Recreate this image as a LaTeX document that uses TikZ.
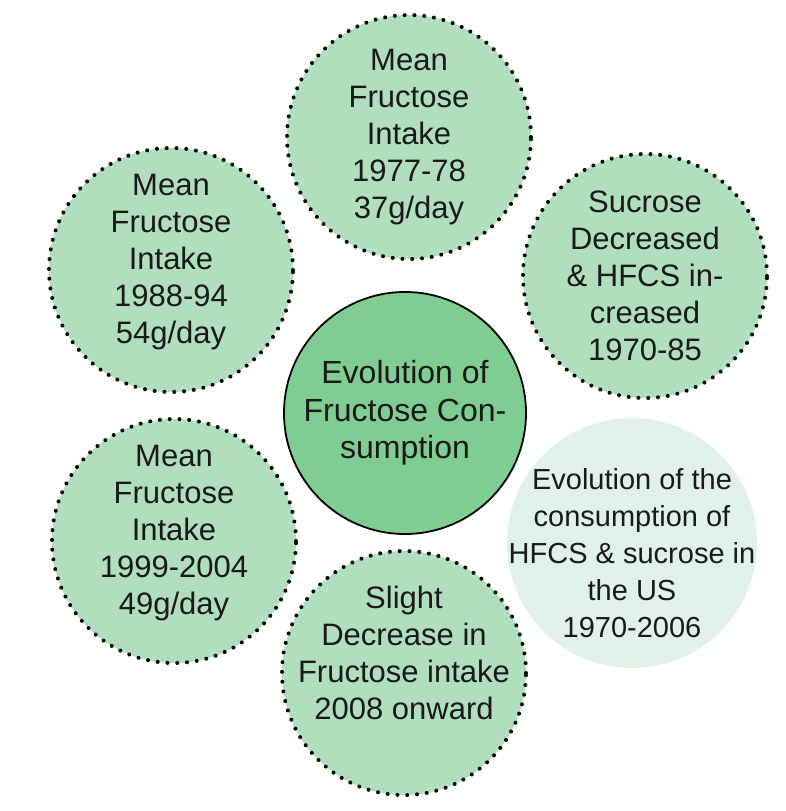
\documentclass[tikz,border=0pt]{standalone}
\usepackage{fontspec}
\setmainfont{Liberation Sans}
\usepackage{xcolor}
\usepackage{tikz}
\usetikzlibrary{positioning}
\definecolor{MintFill}{HTML}{B1DFBE}
\definecolor{HubGreen}{HTML}{80CD93}
\definecolor{PaleMint}{HTML}{E0F2E5}
\definecolor{InkDark}{HTML}{1A1A1A}

\tikzset{
  dotring/.style={circle, minimum size=244pt, inner sep=0pt, fill=MintFill,
    draw=black, line width=4pt, line cap=round, dash pattern=on 0pt off 9.8pt},
  hub/.style={circle, minimum size=242pt, inner sep=0pt, fill=HubGreen,
    draw=black, line width=1.8pt},
  note/.style={circle, minimum size=250pt, inner sep=0pt, fill=PaleMint},
  ringtext/.style={align=center, text=InkDark, inner sep=0pt,
    font=\fontsize{31}{37}\selectfont},
  hubtext/.style={ringtext, font=\fontsize{32}{37.5}\selectfont},
  notetext/.style={ringtext, font=\fontsize{29}{37}\selectfont}
}

\begin{document}
\begin{tikzpicture}[x=1pt, y=-1pt]
  \useasboundingbox (0,0) rectangle (786,811);

  % centre and the note on the right
  \node[hub] (hub) at (405,413) {};
  \node[hubtext] (hubt) at (hub.center) {Evolution of\\Fructose Con-\\sumption};
  \node[note] (usnote) at (632,543) {};
  \node[notetext, yshift=-10pt] (usnotet) at (usnote.center) {Evolution of the\\consumption of\\HFCS \& sucrose in\\the US\\1970-2006};

  % intake periods around the centre
  \node[dotring] (p7778) at (409,137) {};
  \node[ringtext] (t7778) at (p7778.center) {Mean\\Fructose\\Intake\\1977-78\\37g/day};
  \node[dotring] (p7085) at (645,276) {};
  \node[ringtext] (t7085) at (p7085.center) {Sucrose\\Decreased\\\& HFCS in-\\creased\\1970-85};
  \node[dotring] (p8894) at (171,270) {};
  \node[ringtext, yshift=8pt] (t8894) at (p8894.center) {Mean\\Fructose\\Intake\\1988-94\\54g/day};
  \node[dotring] (p9904) at (174,541) {};
  \node[ringtext, yshift=8pt] (t9904) at (p9904.center) {Mean\\Fructose\\Intake\\1999-2004\\49g/day};
  \node[dotring] (p2008) at (404,673) {};
  \node[ringtext, yshift=20pt] (t2008) at (p2008.center) {Slight\\Decrease in\\Fructose intake\\2008 onward};
\end{tikzpicture}
\end{document}
